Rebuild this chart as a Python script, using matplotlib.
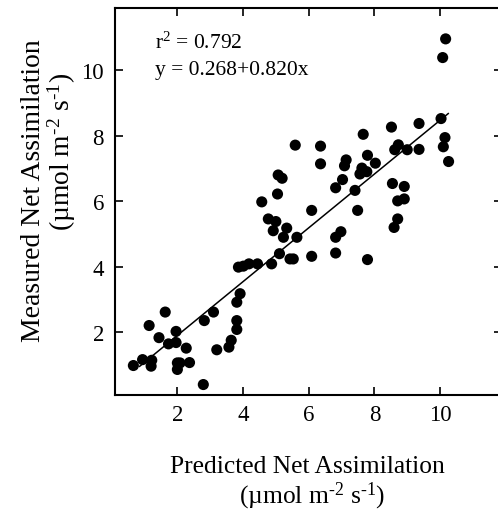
import matplotlib
matplotlib.use("Agg")
import matplotlib.pyplot as plt
import numpy as np

plt.rcParams["font.family"] = ["Liberation Serif", "DejaVu Serif"]
plt.rcParams["mathtext.fontset"] = "custom"
plt.rcParams["mathtext.rm"] = "Liberation Serif"
plt.rcParams["mathtext.it"] = "Liberation Serif"
plt.rcParams["axes.unicode_minus"] = False

# predicted vs measured net assimilation (umol m-2 s-1)
predicted = [
    10.17, 10.08, 10.03, 9.36, 8.52, 7.66, 10.15, 10.10, 10.26, 8.73,
    8.62, 9.00, 9.36, 5.59, 6.36, 6.36, 7.14, 7.09, 7.79, 8.03,
    7.62, 7.77, 7.56, 5.07, 5.19, 7.03, 6.82, 7.41, 8.55, 8.91,
    5.05, 4.57, 8.71, 8.91, 6.09, 7.49, 4.77, 5.00, 4.92, 5.33,
    5.23, 5.64, 8.71, 8.60, 6.98, 6.82, 5.11, 5.43, 5.53, 6.09,
    6.82, 7.79, 4.87, 3.86, 4.01, 4.18, 4.44, 3.91, 3.81, 3.81,
    3.81, 3.10, 2.82, 3.64, 3.57, 3.20, 1.63, 1.14, 1.44, 1.96,
    1.73, 1.96, 2.27, 0.66, 0.94, 1.22, 1.20, 2.00, 2.08, 2.37,
    2.00, 2.79,
]
measured = [
    10.95, 10.38, 8.52, 8.37, 8.26, 8.04, 7.94, 7.66, 7.21, 7.72,
    7.57, 7.57, 7.58, 7.71, 7.68, 7.14, 7.26, 7.08, 7.40, 7.16,
    7.01, 6.90, 6.83, 6.80, 6.70, 6.66, 6.41, 6.33, 6.54, 6.45,
    6.22, 5.98, 6.01, 6.07, 5.72, 5.72, 5.46, 5.38, 5.10, 5.18,
    4.90, 4.90, 5.46, 5.20, 5.07, 4.90, 4.40, 4.24, 4.24, 4.32,
    4.42, 4.22, 4.09, 3.99, 4.02, 4.09, 4.09, 3.18, 2.92, 2.36,
    2.09, 2.62, 2.36, 1.76, 1.55, 1.47, 2.62, 2.21, 1.84, 2.03,
    1.65, 1.69, 1.52, 0.99, 1.17, 1.15, 0.97, 1.07, 1.07, 1.08,
    0.87, 0.41,
]

intercept = 0.268
slope = 0.820
r2 = 0.792
fit_range = [0.85, 10.25]

# hyphen-style superscript minus like the original
units = "(µmol m$^{\u20102}$ s$^{\u20101}$)"

fig = plt.figure(figsize=(4.98, 5.10), dpi=100)
ax = fig.add_axes([0.2309, 0.2241, 0.778, 0.7588])

ax.scatter(predicted, measured, s=64, color="black", edgecolors="none", zorder=3)

xf = np.array(fit_range)
ax.plot(xf, intercept + slope * xf, color="black", linewidth=1.1, zorder=2)

ax.set_xlim(0.1, 11.9)
ax.set_ylim(0.1, 11.9)
ax.set_xticks([2, 4, 6, 8, 10])
ax.set_yticks([2, 4, 6, 8, 10])

for spine in ax.spines.values():
    spine.set_linewidth(1.5)

ax.tick_params(direction="in", length=5.5, width=1.2, labelsize=16.5,
               top=True, right=True)
ax.tick_params(axis="x", pad=7)
ax.tick_params(axis="y", pad=8)

ax.text(0.103, 0.896, r"r$^2$ = %.3f" % r2, transform=ax.transAxes,
        fontsize=15.5, va="baseline")
ax.text(0.103, 0.829, "y = %.3f+%.3fx" % (intercept, slope),
        transform=ax.transAxes, fontsize=15.5, va="baseline")

fig.text(0.618, 0.0725, "Predicted Net Assimilation", ha="center",
         va="baseline", fontsize=18.4)
fig.text(0.626, 0.0137, units, ha="center", va="baseline", fontsize=18.4)

fig.text(0.068, 0.6255, "Measured Net Assimilation", ha="center",
         va="center", fontsize=19.9, rotation=90)
fig.text(0.124, 0.702, units, ha="center", va="center", fontsize=19.9,
         rotation=90)

fig.savefig("out.png", dpi=100, facecolor="white")
